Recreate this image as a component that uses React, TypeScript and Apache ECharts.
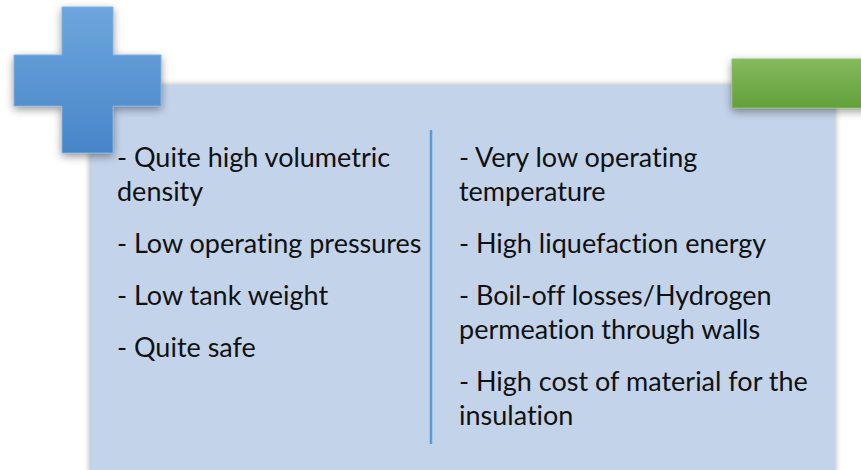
import React, { useEffect, useRef } from "react";
import * as echarts from "echarts";

// Text content: each column is a list of paragraphs, each paragraph a list of lines
const leftParagraphs: string[][] = [
  ["- Quite high volumetric", "density"],
  ["- Low operating pressures"],
  ["- Low tank weight"],
  ["- Quite safe"],
];

const rightParagraphs: string[][] = [
  ["- Very low operating", "temperature"],
  ["- High liquefaction energy"],
  ["- Boil-off losses/Hydrogen", "permeation through walls"],
  ["- High cost of material for the", "insulation"],
];

const FONT = "Lato";
const FS = 27;
const FIRST_BASELINE = 164;
const LINE_STEP = 34;
const PARA_GAP = 18;

function columnTexts(paras: string[][], x: number): any[] {
  const out: any[] = [];
  let y = FIRST_BASELINE;
  paras.forEach((p) => {
    p.forEach((line) => {
      out.push({
        type: "text",
        x,
        y: y - FS * 0.36 + 2,
        style: {
          text: line,
          fill: "#111111",
          font: `${FS}px ${FONT}`,
          fontFamily: FONT,
          fontSize: FS,
          align: "left",
          verticalAlign: "middle",
        },
        z: 10,
      });
      y += LINE_STEP;
    });
    y += PARA_GAP;
  });
  return out;
}

export default function App() {
  const ref = useRef<HTMLDivElement>(null);
  useEffect(() => {
    document.body.style.margin = "0";
    if (!ref.current) return;
    const chart = echarts.init(ref.current, null, { renderer: "svg" });
    const plusPts = [
      [62, 7], [113, 7], [113, 55], [161, 55], [161, 106], [113, 106],
      [113, 153], [62, 153], [62, 106], [14, 106], [14, 55], [62, 55],
    ];
    chart.setOption({
      animation: false,
      backgroundColor: "#ffffff",
      graphic: [
        {
          type: "rect",
          shape: { x: 90, y: 85, width: 745, height: 400 },
          style: {
            fill: "#c3d3ea",
            shadowBlur: 6,
            shadowColor: "rgba(0,0,0,0.35)",
            shadowOffsetX: 0,
            shadowOffsetY: 0,
          },
          z: 1,
        },
        {
          type: "line",
          shape: { x1: 431, y1: 130, x2: 431, y2: 444 },
          style: { stroke: "#5b9bd5", lineWidth: 2.5 },
          z: 5,
        },
        {
          type: "polygon",
          shape: { points: plusPts },
          style: {
            fill: new echarts.graphic.LinearGradient(0, 0, 0, 1, [
              { offset: 0, color: "#6ea5dd" },
              { offset: 1, color: "#4785c8" },
            ]),
            stroke: "#7fb0e2",
            lineWidth: 1,
            shadowBlur: 8,
            shadowColor: "rgba(0,0,0,0.4)",
            shadowOffsetY: 3,
          },
          z: 20,
        },
        {
          type: "rect",
          shape: { x: 732, y: 59, width: 140, height: 49 },
          style: {
            fill: new echarts.graphic.LinearGradient(0, 0, 0, 1, [
              { offset: 0, color: "#84bb5e" },
              { offset: 1, color: "#62a03a" },
            ]),
            stroke: "#8cc068",
            lineWidth: 1,
            shadowBlur: 8,
            shadowColor: "rgba(0,0,0,0.4)",
            shadowOffsetY: 3,
          },
          z: 20,
        },
        ...columnTexts(leftParagraphs, 117),
        ...columnTexts(rightParagraphs, 459),
      ],
    });
    return () => chart.dispose();
  }, []);
  return (
    <div
      ref={ref}
      style={{ width: 861, height: 470, fontVariantLigatures: "none" }}
    />
  );
}
